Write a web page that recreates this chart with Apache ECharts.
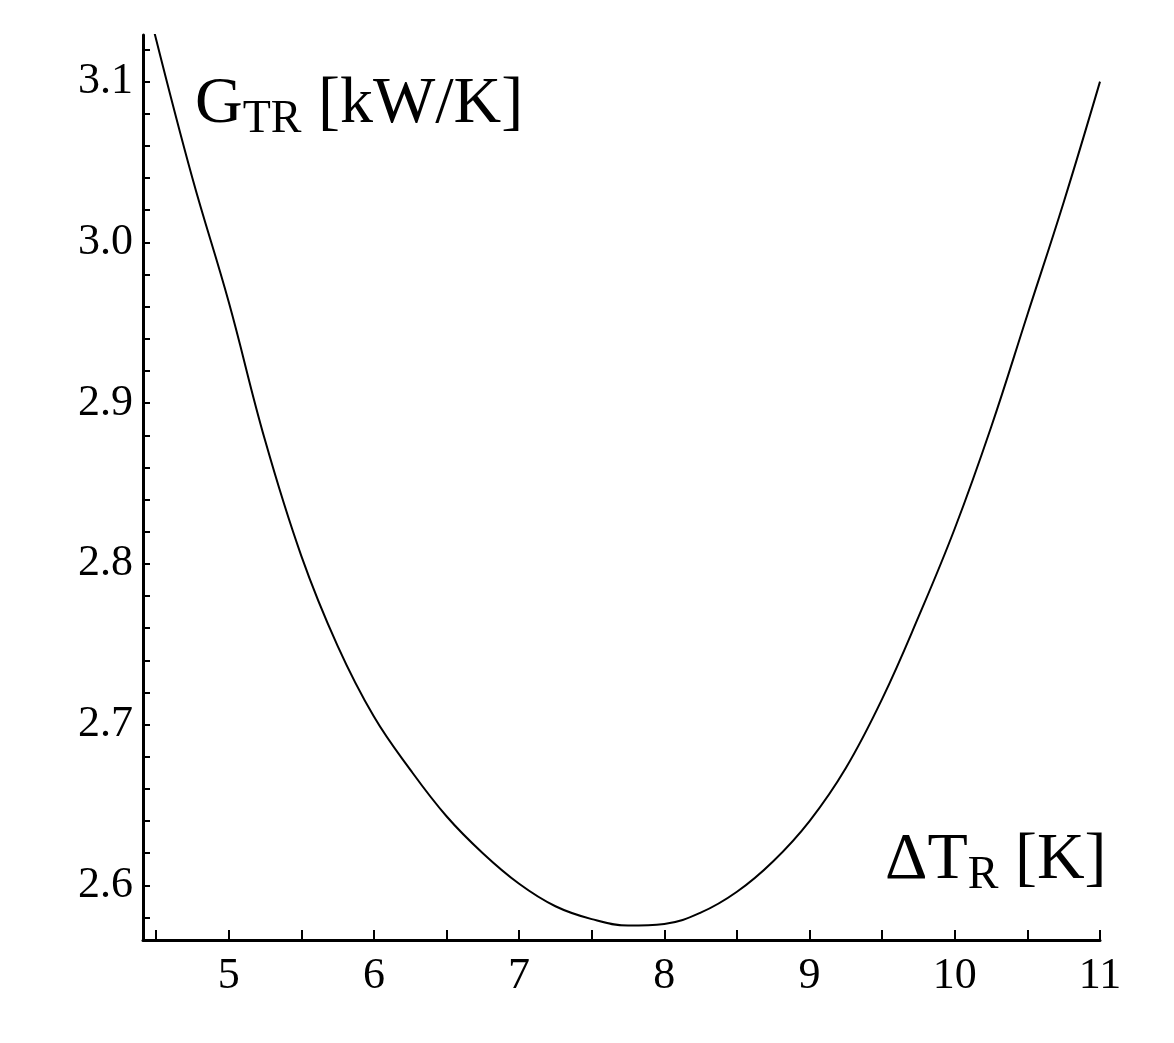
<!DOCTYPE html>
<html><head><meta charset="utf-8">
<script src="https://cdn.jsdelivr.net/npm/echarts@6/dist/echarts.min.js"></script>
<style>html,body{margin:0;padding:0;background:#fff}#c{width:1174px;height:1043px}</style>
</head><body><div id="c"></div>
<script>
const xValues = [4.49,4.75,5.0,5.25,5.5,5.75,6.0,6.25,6.5,6.75,7.0,7.25,7.5,7.75,8.0,8.25,8.5,8.75,9.0,9.25,9.5,9.75,10.0,10.25,10.5,10.75,11.0];
const yValues = [3.13,3.04,2.963,2.877,2.805,2.749,2.705,2.672,2.643,2.62,2.601,2.587,2.579,2.575,2.576,2.583,2.596,2.615,2.64,2.673,2.716,2.767,2.822,2.885,2.955,3.025,3.1];
const xTickLabels = [5,6,7,8,9,10,11];
const xMinorTicks = [4.5,5,5.5,6,6.5,7,7.5,8,8.5,9,9.5,10,10.5,11];
const yTickLabels = [2.6,2.7,2.8,2.9,3.0,3.1];
const yMinorTicks = [2.58,2.6,2.62,2.64,2.66,2.68,2.7,2.72,2.74,2.76,2.78,2.8,2.82,2.84,2.86,2.88,2.9,2.92,2.94,2.96,2.98,3.0,3.02,3.04,3.06,3.08,3.1,3.12];
const chart = echarts.init(document.getElementById('c'));
const font = 'Liberation Serif';
chart.setOption({
  animation:false,
  grid:{left:143,right:74,top:35,bottom:103},
  xAxis:{type:'value',min:4.41,max:11.0,
    axisLine:{lineStyle:{color:'#000',width:3}},
    axisTick:{inside:true,length:10,lineStyle:{color:'#000',width:2},customValues:xMinorTicks},
    axisLabel:{customValues:xTickLabels,color:'#000',fontFamily:font,fontSize:44,margin:14,
      formatter:v=>String(v)},
    splitLine:{show:false}},
  yAxis:{type:'value',min:2.566,max:3.129,
    axisLine:{show:true,lineStyle:{color:'#000',width:3}},
    axisTick:{inside:true,length:7,lineStyle:{color:'#000',width:2},customValues:yMinorTicks},
    axisLabel:{customValues:yTickLabels,color:'#000',fontFamily:font,fontSize:44,margin:10,
      formatter:v=>v.toFixed(1)},
    splitLine:{show:false}},
  series:[{type:'line',smooth:0.4,symbol:'none',
    data:xValues.map((x,i)=>[x,yValues[i]]),
    lineStyle:{color:'#000',width:2}}],
  graphic:[
    {type:'text',left:195,top:72,style:{rich:{a:{fontFamily:font,fontSize:66,fill:'#000'},b:{fontFamily:font,fontSize:46,fill:'#000',padding:[30,0,0,0]}},
      text:'{a|G}{b|TR}{a| [kW/K]}'}},
    {type:'text',left:885,top:828,style:{rich:{a:{fontFamily:font,fontSize:66,fill:'#000'},b:{fontFamily:font,fontSize:46,fill:'#000',padding:[30,0,0,0]}},
      text:'{a|ΔT}{b|R}{a| [K]}'}}
  ]
});
</script></body></html>
